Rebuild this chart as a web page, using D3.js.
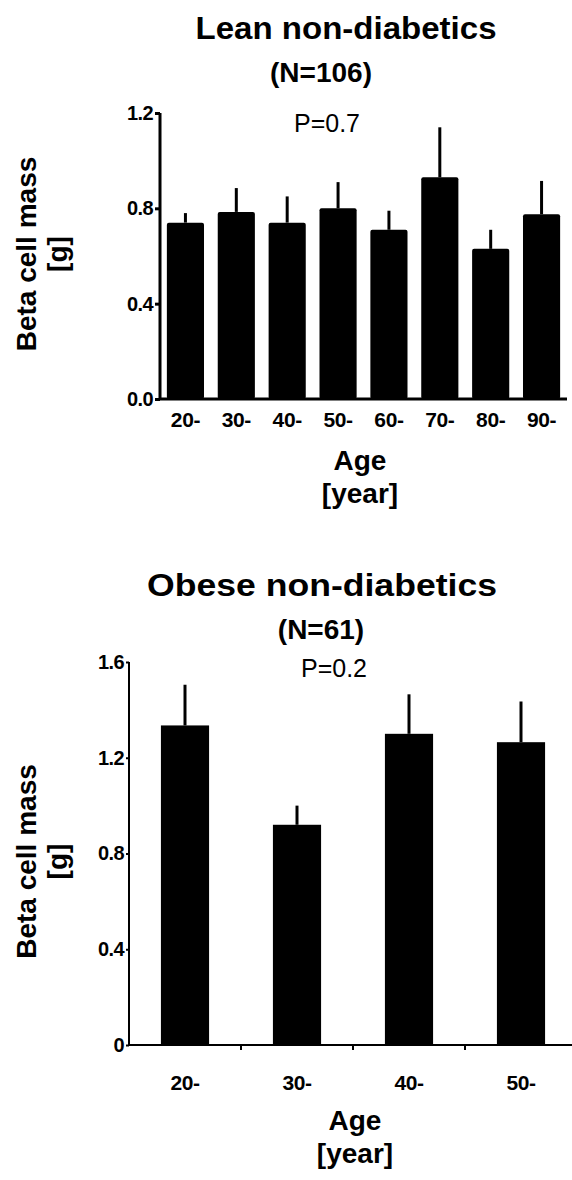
<!DOCTYPE html>
<html>
<head>
<meta charset="utf-8">
<script src="https://cdn.jsdelivr.net/npm/d3@7"></script>
<style>
  body { margin: 0; background: white; }
  text { font-family: "Liberation Sans", Arial, sans-serif; fill: black; }
</style>
</head>
<body>
<div class="figure"></div>
<script>

// lean non-diabetics
var leanAges = ["20-", "30-", "40-", "50-", "60-", "70-", "80-", "90-"];
var leanMeans = [0.74, 0.785, 0.74, 0.80, 0.71, 0.93, 0.63, 0.775];
var leanErr = [0.04, 0.10, 0.11, 0.11, 0.08, 0.21, 0.08, 0.14];
var leanTicks = [0, 0.4, 0.8, 1.2];

// obese non-diabetics
var obeseAges = ["20-", "30-", "40-", "50-"];
var obeseMeans = [1.335, 0.92, 1.30, 1.265];
var obeseErr = [0.17, 0.08, 0.165, 0.17];
var obeseTicks = [0, 0.4, 0.8, 1.2, 1.6];

var svgWidth = 572;
var svgHeight = 1180;

var svg = d3
  .select(".figure")
  .append("svg")
  .attr("width", svgWidth)
  .attr("height", svgHeight);

function drawPanel(opt) {
  var g = svg.append("g").attr("class", opt.cls);

  var x = d3
    .scaleBand()
    .domain(opt.ages)
    .range([opt.left, opt.right])
    .paddingInner(opt.pad)
    .paddingOuter(opt.pad / 2);

  var y = d3.scaleLinear().domain([0, opt.ymax]).range([opt.bottom, opt.top]);

  var rows = opt.ages.map(function (a, i) {
    return { age: a, mean: opt.means[i], err: opt.errs[i] };
  });

  // error bars, upper half only
  g.append("g")
    .selectAll("line")
    .data(rows)
    .join("line")
    .attr("x1", (d) => x(d.age) + x.bandwidth() / 2)
    .attr("x2", (d) => x(d.age) + x.bandwidth() / 2)
    .attr("y1", (d) => y(d.mean))
    .attr("y2", (d) => y(d.mean + d.err))
    .attr("stroke", "black")
    .attr("stroke-width", 3);

  g.append("g")
    .selectAll("rect")
    .data(rows)
    .join("rect")
    .attr("x", (d) => x(d.age))
    .attr("y", (d) => y(d.mean))
    .attr("width", x.bandwidth())
    .attr("height", (d) => y(0) - y(d.mean))
    .attr("rx", opt.rx)
    .attr("fill", "black");

  // y axis
  var yAxis = g
    .append("g")
    .attr("transform", `translate(${opt.left},0)`)
    .call(
      d3.axisLeft(y)
        .tickValues(opt.ticks)
        .tickSize(opt.tick)
        .tickPadding(2)
        .tickFormat(opt.fmt)
    );
  yAxis.select(".domain").attr("stroke-width", opt.lw).attr("d", `M0,${opt.bottom}V${opt.top}`);
  yAxis.selectAll(".tick line").attr("stroke-width", opt.lw);
  yAxis
    .selectAll("text")
    .style("font-size", "20px")
    .style("font-weight", "bold")
    .style("letter-spacing", "-0.6px");

  // x axis
  var xAxis = g
    .append("g")
    .attr("transform", `translate(0,${opt.bottom})`)
    .call(d3.axisBottom(x).tickSize(0).tickPadding(opt.xpad));
  xAxis.select(".domain").attr("stroke-width", opt.lw).attr("d", `M${opt.left - 1},0H${opt.right}`);
  xAxis
    .selectAll("text")
    .style("font-size", "21px")
    .style("font-weight", "bold")
    .style("letter-spacing", "-0.4px");

  if (opt.boundaryTicks) {
    var edges = opt.ages.map((a) => x(a) - (x.step() - x.bandwidth()) / 2).slice(1);
    g.append("g")
      .selectAll("line")
      .data(edges)
      .join("line")
      .attr("x1", (d) => d)
      .attr("x2", (d) => d)
      .attr("y1", opt.bottom)
      .attr("y2", opt.bottom + 5)
      .attr("stroke", "black")
      .attr("stroke-width", 2);
  }

  // two-line title, first line is drawn wide like in the original
  g.append("text")
    .attr("x", opt.titleX)
    .attr("y", opt.titleY)
    .attr("text-anchor", "middle")
    .attr("textLength", opt.titleW)
    .attr("lengthAdjust", "spacingAndGlyphs")
    .style("font-size", "31px")
    .style("font-weight", "bold")
    .text(opt.title);
  g.append("text")
    .attr("x", opt.subX)
    .attr("y", opt.titleY + 43)
    .attr("text-anchor", "middle")
    .style("font-size", "28px")
    .style("font-weight", "bold")
    .text(opt.sub);

  g.append("text")
    .attr("x", opt.pX)
    .attr("y", opt.pY)
    .attr("text-anchor", "middle")
    .style("font-size", "25px")
    .text(opt.p);

  // axis titles
  var cy = (opt.top + opt.bottom) / 2 + opt.yLabelShift;
  g.append("text")
    .attr("transform", `translate(36,${cy}) rotate(-90)`)
    .attr("text-anchor", "middle")
    .style("font-size", "28px")
    .style("font-weight", "bold")
    .text("Beta cell mass");
  g.append("text")
    .attr("transform", `translate(67,${cy}) rotate(-90)`)
    .attr("text-anchor", "middle")
    .style("font-size", "28px")
    .style("font-weight", "bold")
    .text("[g]");

  g.append("text")
    .attr("x", opt.ageX)
    .attr("y", opt.ageY)
    .attr("text-anchor", "middle")
    .style("font-size", "28px")
    .style("font-weight", "bold")
    .text("Age");
  g.append("text")
    .attr("x", opt.ageX)
    .attr("y", opt.ageY + 33)
    .attr("text-anchor", "middle")
    .style("font-size", "28px")
    .style("font-weight", "bold")
    .text("[year]");
}

drawPanel({
  cls: "lean",
  ages: leanAges,
  means: leanMeans,
  errs: leanErr,
  ticks: leanTicks,
  ymax: 1.2,
  left: 160,
  right: 567,
  top: 113,
  bottom: 399,
  pad: 0.27,
  rx: 2,
  lw: 3,
  tick: 5,
  xpad: 13,
  fmt: d3.format(".1f"),
  boundaryTicks: false,
  title: "Lean non-diabetics",
  titleW: 301,
  sub: "(N=106)",
  titleX: 346,
  subX: 321,
  titleY: 39,
  p: "P=0.7",
  pX: 327,
  pY: 132,
  yLabelShift: -2,
  ageX: 360,
  ageY: 470,
});

drawPanel({
  cls: "obese",
  ages: obeseAges,
  means: obeseMeans,
  errs: obeseErr,
  ticks: obeseTicks,
  ymax: 1.6,
  left: 129,
  right: 577,
  top: 662,
  bottom: 1045,
  pad: 0.57,
  rx: 0,
  lw: 2,
  tick: 3,
  xpad: 30,
  fmt: (d) => (d === 0 ? "0" : d3.format(".1f")(d)),
  boundaryTicks: true,
  title: "Obese non-diabetics",
  titleW: 350,
  sub: "(N=61)",
  titleX: 322,
  subX: 321,
  titleY: 596,
  p: "P=0.2",
  pX: 334,
  pY: 677,
  yLabelShift: 8,
  ageX: 355,
  ageY: 1130,
});

</script>
</body>
</html>
